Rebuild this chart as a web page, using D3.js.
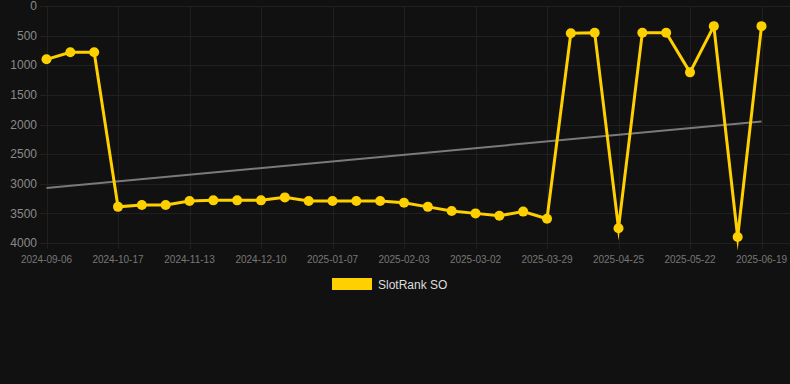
<!DOCTYPE html>
<html><head><meta charset="utf-8">
<script src="https://cdn.jsdelivr.net/npm/d3@7"></script>
<style>html,body{margin:0;padding:0;background:#111111;}svg{display:block;}</style>
</head><body>
<svg id="c" width="790" height="384"></svg>
<script>
const dates = ["2024-09-06","2024-09-20","2024-10-04","2024-10-17","2024-10-26","2024-11-04","2024-11-13","2024-11-22","2024-12-01","2024-12-10","2024-12-19","2024-12-29","2025-01-07","2025-01-16","2025-01-25","2025-02-03","2025-02-12","2025-02-21","2025-03-02","2025-03-11","2025-03-20","2025-03-29","2025-04-07","2025-04-16","2025-04-25","2025-05-04","2025-05-13","2025-05-22","2025-05-31","2025-06-10","2025-06-19"];
const rankValues = [900,780,780,3390,3360,3360,3290,3280,3280,3280,3230,3290,3290,3290,3290,3320,3390,3460,3500,3540,3470,3590,460,450,3750,450,450,1120,340,3900,340];
const trendValues = [3070,1950];
const yTicks = [0,500,1000,1500,2000,2500,3000,3500,4000];
const xTickLabels = ["2024-09-06","2024-10-17","2024-11-13","2024-12-10","2025-01-07","2025-02-03","2025-03-02","2025-03-29","2025-04-25","2025-05-22","2025-06-19"];
const seriesName = "SlotRank SO";

const svg = d3.select("#c");
const x = d3.scalePoint().domain(dates).range([46.5, 761.5]);
const y = d3.scaleLinear().domain([0, 4000]).range([6, 243]);
const gridColor = "#202020";
const gold = "#FFD000";

// horizontal grid + y labels
const yAxis = svg.append("g");
yTicks.forEach(t => {
  yAxis.append("line").attr("x1", 40).attr("x2", 790)
    .attr("y1", Math.round(y(t)) + 0.5).attr("y2", Math.round(y(t)) + 0.5)
    .attr("stroke", gridColor).attr("stroke-width", 1);
  yAxis.append("text").attr("x", 37).attr("y", y(t)).attr("dy", "0.35em")
    .attr("text-anchor", "end").attr("fill", "#8a8a8a")
    .attr("font-family", "Arial, 'Liberation Sans', sans-serif").attr("font-size", 12)
    .text(t);
});
// vertical grid + x labels
const xAxis = svg.append("g");
xTickLabels.forEach(d => {
  const px = Math.round(x(d)) + 0.5;
  xAxis.append("line").attr("x1", px).attr("x2", px).attr("y1", 6).attr("y2", 249)
    .attr("stroke", gridColor).attr("stroke-width", 1);
  xAxis.append("text").attr("x", x(d)).attr("y", 259).attr("dy", "0.35em")
    .attr("text-anchor", "middle").attr("fill", "#777777")
    .attr("font-family", "Arial, 'Liberation Sans', sans-serif").attr("font-size", 10)
    .text(d);
});

// trend line
svg.append("line")
  .attr("x1", x(dates[0])).attr("y1", y(trendValues[0]))
  .attr("x2", x(dates[dates.length - 1])).attr("y2", y(trendValues[1]))
  .attr("stroke", "#7a7a7a").attr("stroke-width", 2);

// series line
const line = d3.line().x((d, i) => x(dates[i])).y(d => y(d));
svg.append("path").datum(rankValues).attr("d", line)
  .attr("fill", "none").attr("stroke", gold).attr("stroke-width", 3)
  .attr("stroke-linejoin", "miter").attr("stroke-miterlimit", 10);
svg.append("g").selectAll("circle").data(rankValues).join("circle")
  .attr("cx", (d, i) => x(dates[i])).attr("cy", d => y(d)).attr("r", 5)
  .attr("fill", gold);

// legend
const lg = svg.append("g");
lg.append("rect").attr("x", 332).attr("y", 278).attr("width", 40).attr("height", 12).attr("fill", gold);
lg.append("text").attr("x", 378).attr("y", 284.5).attr("dy", "0.35em")
  .attr("fill", "#dddddd").attr("font-family", "Arial, 'Liberation Sans', sans-serif")
  .attr("font-size", 12).text(seriesName);
</script>
</body></html>
